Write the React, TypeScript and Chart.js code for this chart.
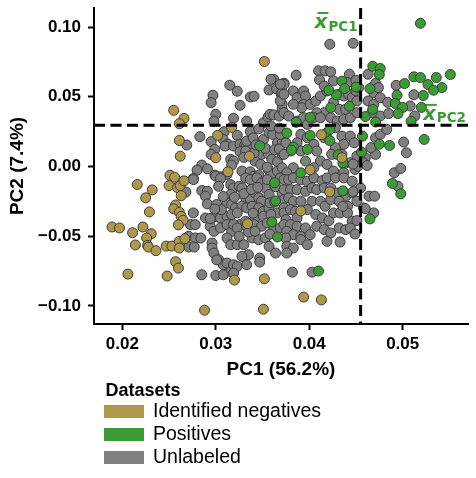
import React, { useEffect, useRef } from "react";
import { Chart, registerables } from "chart.js";

Chart.register(...registerables);

// Values are PC scores in thousandths: [PC1 x 1000, PC2 x 1000]
const NEGATIVES: number[][] = [
  [21.6, -12.9], [23.2, -16.8], [22.5, -22.5], [22.9, -32.6], [18.9, -43.4], [19.7, -44.1],
  [21.1, -47.5], [22.2, -43.4], [23.1, -48.2], [22.6, -51.3], [21.4, -56.3], [22.7, -56.6],
  [22.8, -57.8], [23.6, -60.4], [24.7, -57.1], [25.3, -57.1], [26.1, -53.7], [26.1, -58.5],
  [26.7, -51.8], [25.7, -68.3], [26.0, -72.9], [20.6, -77.2], [24.8, -78.6], [28.8, -103.1],
  [32.0, -81.5], [35.1, -102.4], [35.2, -80.6], [25.1, -6.3], [25.6, -7.7], [25.0, -13.7],
  [25.9, -15.1], [26.2, -13.7], [26.6, -10.3], [26.3, -20.9], [25.7, -27.6], [25.5, -30.4],
  [26.1, -32.9], [26.3, -35.8], [26.5, -38.6], [26.0, -41.9], [31.3, -3.8], [33.4, -41.0],
  [25.5, 40.3], [26.6, 34.5], [26.1, 30.7], [26.1, 18.7], [30.2, 22.3], [26.2, 7.4],
  [30.0, 6.3], [33.6, 7.4], [31.7, 28.1], [35.2, 75.3], [41.3, 22.8], [40.1, -2.4],
  [42.2, -18.2], [39.1, -31.9], [39.4, -93.7], [41.3, -95.7], [43.5, 6.3],
];

const POSITIVES: number[][] = [
  [51.9, 102.7], [46.8, 71.9], [47.6, 70.3], [47.5, 66.0], [51.2, 64.3], [51.9, 63.8],
  [53.6, 63.8], [55.1, 66.0], [50.2, 59.5], [52.7, 58.8], [54.2, 56.6], [53.3, 54.7],
  [52.2, 50.9], [49.4, 51.1], [49.2, 45.3], [50.0, 42.4], [49.5, 37.9], [52.0, 42.4],
  [50.9, 32.4], [52.3, 19.4], [46.5, 55.9], [45.0, 57.0], [43.5, 61.2], [43.8, 55.9],
  [42.9, 51.4], [42.1, 54.7], [44.3, 43.2], [42.3, 42.2], [46.8, 41.0], [46.0, 35.8],
  [47.1, 31.9], [40.1, 35.3], [38.6, 31.7], [37.6, 24.0], [40.1, 22.3], [42.2, 18.5],
  [45.7, 21.8], [47.5, 16.0], [48.6, 15.1], [38.3, 13.9], [39.8, 12.2], [43.1, 8.4],
  [45.6, 10.3], [43.6, 2.7], [38.1, 11.7], [34.7, 14.9], [42.2, 26.6], [39.1, -4.5],
  [36.3, -11.7], [36.4, -24.7], [36.0, -39.8], [36.6, -50.6], [43.6, -17.5], [46.5, -37.6],
  [48.9, -12.2], [49.8, -19.6], [41.0, -75.0],
];

const UNLABELED: number[][] = [
  [36.2, 62.6], [35.7, 54.9], [36.5, 55.7], [37.0, 58.3], [37.0, 51.8], [31.5, 58.3],
  [32.3, 54.0], [29.7, 51.1], [29.5, 45.8], [33.7, 49.9], [34.1, 50.4], [32.6, 43.9],
  [30.0, 37.4], [29.8, 32.6], [31.9, 34.6], [33.3, 32.6], [35.1, 31.4], [35.6, 35.5],
  [35.8, 37.4], [36.2, 37.0], [36.8, 36.2], [37.1, 41.0], [37.1, 44.6], [36.9, 47.0],
  [28.3, 21.4], [26.9, 15.4], [29.5, 17.8], [30.9, 25.0], [30.8, 19.4], [32.3, 22.3],
  [33.7, 25.0], [31.3, 15.9], [31.0, 14.7], [31.9, 14.7], [32.6, 15.9], [33.1, 15.4],
  [29.9, 12.3], [29.5, 8.7], [33.3, 14.7], [35.1, 19.4], [35.7, 24.2], [36.1, 23.0],
  [36.6, 17.0], [37.1, 17.0], [36.9, 23.0], [34.9, 8.7], [35.6, 9.1], [36.0, 5.1],
  [36.6, 3.4], [37.1, 8.7], [31.6, 5.1], [31.9, 3.9], [31.7, 1.0], [32.6, 10.6],
  [33.2, 11.1], [34.2, 3.9], [28.5, 1.0], [28.0, -2.6], [29.1, -1.7], [29.9, -6.2],
  [30.5, -7.4], [32.8, -3.3], [33.7, -3.8], [34.1, -6.9], [34.6, -6.2], [35.6, -2.1],
  [35.9, -5.7], [36.6, -3.3], [37.1, -0.9], [27.6, -8.6], [31.2, -5.7], [37.3, 59.7],
  [37.1, 53.0], [33.3, 18.2], [34.1, 9.8], [34.0, 20.5], [34.6, 27.0], [35.3, 13.0],
  [36.3, 12.0], [34.3, 15.5], [35.9, 29.0], [36.8, 27.5], [34.8, 1.5], [33.0, 6.5],
  [35.5, -0.5], [36.8, 12.5],
  [41.0, 68.6], [41.7, 68.6], [42.3, 67.9], [38.6, 65.5], [41.1, 62.1], [42.6, 61.4],
  [44.3, 66.2], [44.1, 60.2], [45.0, 61.9], [46.3, 66.2], [47.1, 59.5], [37.3, 59.0],
  [38.3, 54.2], [37.3, 51.8], [38.7, 49.4], [39.4, 54.2], [39.6, 50.6], [39.4, 44.6],
  [39.2, 42.2], [38.3, 44.6], [40.1, 44.6], [40.7, 47.0], [41.2, 50.6], [41.9, 54.2],
  [41.6, 57.8], [43.2, 51.8], [43.7, 50.6], [44.2, 51.8], [44.6, 49.4], [45.0, 54.2],
  [45.3, 56.6], [42.6, 45.8], [43.2, 41.0], [43.9, 41.0], [41.6, 38.6], [40.8, 38.6],
  [40.5, 35.0], [41.2, 35.0], [42.3, 35.0], [43.0, 32.6], [43.7, 33.8], [44.4, 35.0],
  [45.1, 38.6], [45.1, 47.0], [46.3, 47.0], [46.9, 53.0], [46.9, 44.6], [47.4, 56.6],
  [47.6, 49.4], [47.6, 36.2], [46.7, 38.6], [37.3, 38.6], [37.8, 36.2], [38.7, 32.6],
  [39.4, 35.0], [39.8, 30.2], [39.1, 23.0], [39.8, 20.6], [38.7, 17.0], [37.5, 17.0],
  [38.0, 11.1], [37.3, 8.7], [39.1, 11.1], [40.5, 15.9], [40.8, 11.1], [41.6, 20.6],
  [41.9, 24.2], [42.8, 27.8], [43.5, 21.8], [44.4, 21.8], [44.8, 17.0], [43.7, 15.9],
  [42.8, 13.5], [43.5, 8.7], [42.4, 8.7], [41.2, 3.9], [41.9, 1.5], [40.5, -0.9],
  [39.6, 3.9], [38.3, -0.9], [37.6, -4.5], [42.6, -3.3], [43.7, 1.5], [44.4, 2.7],
  [45.1, 7.5], [46.0, 6.3], [47.1, 8.7], [45.8, 2.7], [44.9, -2.1], [43.7, -4.5],
  [47.1, 20.6], [46.6, 13.5], [47.6, 23.0], [49.3, 58.2], [51.2, 51.5], [50.8, 43.4],
  [51.3, 36.2], [50.1, 17.5], [50.4, 9.8], [48.3, 26.6], [48.4, 46.0], [48.5, 38.0],
  [42.2, 87.7], [44.7, 88.4], [35.9, 62.5], [36.9, 59.0],
  [27.6, -9.4], [28.5, -17.3], [29.1, -17.8], [28.9, -21.3], [30.0, -7.0], [30.5, -8.6],
  [30.3, -14.2], [31.6, -13.0], [31.9, -15.4], [31.6, -20.1], [32.5, -14.2], [32.8, -15.4],
  [33.2, -8.2], [33.7, -9.4], [34.4, -8.2], [34.9, -11.8], [35.3, -15.4], [35.5, -9.4],
  [33.2, -22.5], [33.7, -23.7], [34.2, -19.0], [34.6, -22.5], [34.9, -24.9], [35.7, -20.1],
  [36.9, -8.2], [37.1, -19.0], [29.1, -26.9], [30.1, -27.3], [31.2, -26.1], [31.7, -27.3],
  [32.1, -29.7], [32.8, -28.5], [33.3, -29.7], [33.9, -28.5], [34.6, -29.7], [35.1, -32.1],
  [35.7, -29.7], [36.6, -33.3], [27.6, -33.3], [28.9, -36.9], [29.6, -36.9], [30.1, -35.7],
  [30.5, -36.9], [31.2, -35.7], [31.7, -34.5], [32.3, -33.3], [32.6, -41.7], [33.2, -39.3],
  [34.2, -36.9], [35.1, -35.7], [35.9, -34.5], [27.3, -41.7], [27.8, -41.7], [29.4, -42.9],
  [29.8, -46.5], [30.5, -44.1], [31.2, -41.7], [31.7, -46.5], [31.9, -41.7], [32.3, -44.1],
  [33.3, -42.9], [34.1, -41.7], [34.9, -42.9], [35.5, -40.5], [36.2, -45.3], [36.9, -44.1],
  [27.1, -50.1], [27.8, -51.3], [28.4, -51.3], [29.6, -54.9], [29.6, -58.5], [29.8, -62.1],
  [31.2, -51.3], [31.6, -56.1], [32.3, -56.1], [33.0, -56.1], [33.9, -51.3], [34.6, -52.5],
  [35.3, -51.3], [35.7, -57.3], [36.4, -62.1], [33.5, -63.3], [32.8, -64.5], [30.3, -66.9],
  [30.8, -70.5], [31.2, -69.3], [31.6, -75.3], [31.9, -70.5], [32.3, -71.7], [33.3, -70.5],
  [34.7, -65.7], [34.7, -68.6], [28.5, -77.7], [30.0, -78.2], [30.8, -77.7], [31.9, -76.5],
  [26.8, -18.3], [27.1, -57.8], [27.7, -57.8], [30.1, -67.0], [29.4, -37.4],
  [33.0, -19.5], [33.8, -16.5], [34.5, -15.0], [32.0, -22.0], [30.8, -21.5], [35.8, -26.0],
  [36.4, -14.5], [36.3, -25.5], [34.0, -33.5], [33.5, -47.0], [34.2, -46.5], [35.8, -48.5],
  [32.5, -50.0], [30.6, -31.0], [29.9, -30.5],
  [37.3, -9.4], [37.8, -9.4], [38.3, -8.2], [39.1, -9.4], [39.8, -10.6], [40.5, -8.2],
  [41.4, -10.1], [41.9, -8.2], [42.8, -8.2], [43.7, -8.2], [44.6, -10.6], [45.5, -15.4],
  [46.4, -21.3], [47.0, -21.3], [37.3, -16.6], [38.0, -16.6], [38.7, -16.6], [39.6, -17.8],
  [40.3, -15.4], [40.8, -16.6], [41.6, -15.4], [42.3, -15.4], [43.0, -19.0], [43.9, -21.3],
  [44.6, -19.0], [37.3, -23.7], [37.8, -22.5], [38.3, -24.9], [39.1, -24.9], [40.3, -24.9],
  [41.2, -24.9], [41.7, -28.5], [42.3, -23.7], [43.2, -24.9], [44.1, -28.5], [45.1, -24.9],
  [45.8, -29.7], [46.9, -33.3], [37.3, -29.7], [37.3, -33.3], [38.0, -30.9], [38.5, -32.1],
  [39.8, -30.9], [40.7, -34.5], [41.4, -36.9], [42.1, -38.9], [42.6, -33.3], [43.3, -33.3],
  [44.1, -33.3], [44.6, -39.3], [37.5, -38.1], [38.7, -36.9], [37.3, -41.7], [38.0, -41.7],
  [38.7, -42.9], [39.6, -44.1], [40.8, -42.9], [41.6, -45.3], [42.3, -47.7], [43.2, -44.1],
  [43.9, -45.3], [44.4, -44.1], [37.6, -46.5], [38.3, -48.9], [39.1, -50.1], [40.1, -48.9],
  [37.5, -51.3], [39.1, -52.5], [39.8, -56.1], [37.6, -57.3], [38.3, -58.5], [37.6, -62.1],
  [41.9, -53.7], [43.3, -54.2], [44.9, -48.4], [38.2, -75.8], [40.3, -75.8],
  [49.1, -4.5], [49.8, -1.4], [49.5, -14.2], [46.0, -30.2], [45.2, 0.2], [46.2, 0.7],
  [44.7, 1.7], [44.7, -18.0], [43.6, -28.6], [45.1, -38.8],
];

const SERIES_NAMES = ["Identified negatives", "Positives", "Unlabeled"];
const SERIES_COLORS = ["#b0984a", "#3a9c32", "#808080"];
const MEAN_PC1 = 0.0455;
const MEAN_PC2 = 0.0295;
const X_TICKS = [0.02, 0.03, 0.04, 0.05];
const Y_TICKS = [-0.1, -0.05, 0, 0.05, 0.1];
const X_RANGE = [0.01697, 0.05699];
const Y_RANGE = [-0.113, 0.1137];
const X_TITLE = "PC1 (56.2%)";
const Y_TITLE = "PC2 (7.4%)";
const LEGEND_TITLE = "Datasets";

const FONT = '"Liberation Sans", Arial, Helvetica, sans-serif';

const toPoints = (arr: number[][]) => arr.map(([x, y]) => ({ x: x / 1000, y: y / 1000 }));

const fmt = (v: number) => {
  const s = Math.abs(v).toFixed(2);
  return v < -1e-9 ? "\u2212" + s : s;
};

function drawMeanLabel(ctx: CanvasRenderingContext2D, sub: string, rightX: number, baseline: number, color: string) {
  ctx.save();
  ctx.fillStyle = color;
  ctx.strokeStyle = color;
  ctx.textBaseline = "alphabetic";
  ctx.textAlign = "left";
  ctx.font = 'italic bold 20px "DejaVu Sans"';
  const wx = ctx.measureText("x").width;
  ctx.font = 'bold 13.5px "DejaVu Sans"';
  const ws = ctx.measureText(sub).width;
  const start = rightX - (wx + ws + 1);
  ctx.font = 'italic bold 20px "DejaVu Sans"';
  ctx.fillText("x", start, baseline);
  ctx.lineWidth = 2;
  ctx.beginPath();
  ctx.moveTo(start + 3, baseline - 15);
  ctx.lineTo(start + wx + 1, baseline - 15);
  ctx.stroke();
  ctx.font = 'bold 13.5px "DejaVu Sans"';
  ctx.fillText(sub, start + wx + 1, baseline + 2.5);
  ctx.restore();
}

const overlayPlugin = {
  id: "overlay",
  afterDatasetsDraw(chart: any) {
    const { ctx, chartArea, scales } = chart;
    const px = scales.x.getPixelForValue(MEAN_PC1);
    const py = scales.y.getPixelForValue(MEAN_PC2);
    ctx.save();
    ctx.strokeStyle = "#000";
    ctx.lineWidth = 3;
    ctx.setLineDash([11, 5.5]);
    ctx.beginPath();
    ctx.moveTo(px, chartArea.top);
    ctx.lineTo(px, chartArea.bottom);
    ctx.stroke();
    ctx.beginPath();
    ctx.moveTo(chartArea.left, py);
    ctx.lineTo(chartArea.right, py);
    ctx.stroke();
    ctx.restore();
    drawMeanLabel(ctx, "PC1", px - 3, chartArea.top + 20, SERIES_COLORS[1]);
    drawMeanLabel(ctx, "PC2", chartArea.right - 2, py - 5.5, SERIES_COLORS[1]);
  },
  afterDraw(chart: any) {
    const { ctx } = chart;
    ctx.save();
    ctx.fillStyle = "#000";
    ctx.textBaseline = "middle";
    ctx.textAlign = "left";
    ctx.font = `bold 18px ${FONT}`;
    ctx.fillText(LEGEND_TITLE, 105.5, 391);
    const rows = [411.5, 434.5, 457.5];
    SERIES_NAMES.forEach((name, i) => {
      ctx.fillStyle = SERIES_COLORS[i];
      ctx.fillRect(104, rows[i] - 6.5, 40, 13);
      ctx.fillStyle = "#000";
      ctx.font = `19.5px ${FONT}`;
      ctx.fillText(name, 153, rows[i]);
    });
    ctx.restore();
  },
};

const zeroPad = (s: any) => {
  s.paddingTop = 0;
  s.paddingBottom = 0;
  s.paddingLeft = 0;
  s.paddingRight = 0;
};

export default function App() {
  const ref = useRef<HTMLCanvasElement | null>(null);
  useEffect(() => {
    if (!ref.current) return;
    const datasets = [NEGATIVES, POSITIVES, UNLABELED].map((arr, i) => ({
      label: SERIES_NAMES[i],
      data: toPoints(arr),
      backgroundColor: SERIES_COLORS[i],
      borderColor: "#3c3c3c",
      borderWidth: 1,
      pointRadius: 5,
      pointHoverRadius: 5,
    }));
    const tickFont = { family: FONT, size: 17, weight: "bold" as const };
    const titleFont = { family: FONT, size: 19, weight: "bold" as const };
    const chart = new Chart(ref.current, {
      type: "scatter",
      data: { datasets },
      plugins: [overlayPlugin],
      options: {
        animation: false,
        responsive: false,
        events: [],
        layout: { padding: { top: 8, right: 8, left: 0, bottom: 0 } },
        plugins: { legend: { display: false }, tooltip: { enabled: false } },
        scales: {
          x: {
            type: "linear",
            min: X_RANGE[0],
            max: X_RANGE[1],
            afterBuildTicks: (s: any) => {
              s.ticks = X_TICKS.map((v) => ({ value: v }));
            },
            afterFit: (s: any) => {
              s.height = 154;
              zeroPad(s);
            },
            ticks: { font: tickFont, color: "#000", padding: 4, callback: (v: any) => fmt(Number(v)), autoSkip: false, maxRotation: 0 },
            grid: { drawOnChartArea: false, drawTicks: true, tickLength: 6, tickWidth: 2, tickColor: "#000" },
            border: { display: true, color: "#000", width: 2 },
            title: { display: true, text: X_TITLE, font: titleFont, color: "#000", padding: { top: 2, bottom: 96.6 } },
          },
          y: {
            type: "linear",
            min: Y_RANGE[0],
            max: Y_RANGE[1],
            afterBuildTicks: (s: any) => {
              s.ticks = Y_TICKS.map((v) => ({ value: v }));
            },
            afterFit: (s: any) => {
              s.width = 94;
              zeroPad(s);
            },
            ticks: { font: tickFont, color: "#000", padding: 7, callback: (v: any) => fmt(Number(v)), autoSkip: false },
            grid: { drawOnChartArea: false, drawTicks: true, tickLength: 6, tickWidth: 2, tickColor: "#000" },
            border: { display: true, color: "#000", width: 2 },
            title: { display: true, text: Y_TITLE, font: titleFont, color: "#000", padding: { top: 6.6, bottom: 2 } },
          },
        },
      },
    });
    return () => chart.destroy();
  }, []);
  return (
    <div style={{ position: "absolute", left: 0, top: 0, width: 476, height: 478, background: "#fff" }}>
      <canvas ref={ref} width={476} height={478} style={{ width: 476, height: 478, display: "block" }} />
    </div>
  );
}
